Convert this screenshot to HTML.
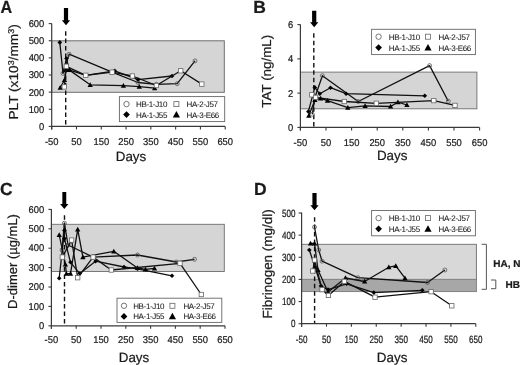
<!DOCTYPE html>
<html><head><meta charset="utf-8"><style>
html,body{margin:0;padding:0;background:#fff;width:520px;height:365px;overflow:hidden}
svg{display:block;will-change:transform}
text{text-rendering:geometricPrecision;font-family:"Liberation Sans",sans-serif;fill:#1a1a1a;stroke:#1a1a1a;stroke-width:0.22px}
</style></head><body>
<svg width="520" height="365" viewBox="0 0 520 365">
<rect width="520" height="365" fill="#fff"/>
<text transform="translate(0.4 12.7) scale(0.92 1)" font-size="17.5" text-anchor="start" font-weight="bold" >A</text>
<rect x="51.7" y="40.8" width="172.60000000000002" height="51.5" fill="#d5d5d5" stroke="#6e6e6e" stroke-width="1.0"/>
<line x1="51.7" y1="23.5" x2="51.7" y2="129.4" stroke="#3a3a3a" stroke-width="1.2" />
<line x1="48.7" y1="126.4" x2="51.7" y2="126.4" stroke="#3a3a3a" stroke-width="1.1" />
<text transform="translate(44.3 129.8) scale(0.95 1)" font-size="9.9" text-anchor="end" font-weight="normal" >0</text>
<line x1="48.7" y1="109.27" x2="51.7" y2="109.27" stroke="#3a3a3a" stroke-width="1.1" />
<text transform="translate(44.3 112.67) scale(0.95 1)" font-size="9.9" text-anchor="end" font-weight="normal" >100</text>
<line x1="48.7" y1="92.13" x2="51.7" y2="92.13" stroke="#3a3a3a" stroke-width="1.1" />
<text transform="translate(44.3 95.53) scale(0.95 1)" font-size="9.9" text-anchor="end" font-weight="normal" >200</text>
<line x1="48.7" y1="75.0" x2="51.7" y2="75.0" stroke="#3a3a3a" stroke-width="1.1" />
<text transform="translate(44.3 78.4) scale(0.95 1)" font-size="9.9" text-anchor="end" font-weight="normal" >300</text>
<line x1="48.7" y1="57.87" x2="51.7" y2="57.87" stroke="#3a3a3a" stroke-width="1.1" />
<text transform="translate(44.3 61.27) scale(0.95 1)" font-size="9.9" text-anchor="end" font-weight="normal" >400</text>
<line x1="48.7" y1="40.73" x2="51.7" y2="40.73" stroke="#3a3a3a" stroke-width="1.1" />
<text transform="translate(44.3 44.13) scale(0.95 1)" font-size="9.9" text-anchor="end" font-weight="normal" >500</text>
<line x1="48.7" y1="23.6" x2="51.7" y2="23.6" stroke="#3a3a3a" stroke-width="1.1" />
<text transform="translate(44.3 27.0) scale(0.95 1)" font-size="9.9" text-anchor="end" font-weight="normal" >600</text>
<line x1="51.7" y1="126.4" x2="225.2" y2="126.4" stroke="#3a3a3a" stroke-width="1.2" />
<line x1="51.7" y1="126.4" x2="51.7" y2="129.4" stroke="#3a3a3a" stroke-width="1.1" />
<text transform="translate(51.7 144.8) scale(0.95 1)" font-size="9.9" text-anchor="middle" font-weight="normal" >-50</text>
<line x1="76.49" y1="126.4" x2="76.49" y2="129.4" stroke="#3a3a3a" stroke-width="1.1" />
<text transform="translate(76.49 144.8) scale(0.95 1)" font-size="9.9" text-anchor="middle" font-weight="normal" >50</text>
<line x1="101.27" y1="126.4" x2="101.27" y2="129.4" stroke="#3a3a3a" stroke-width="1.1" />
<text transform="translate(101.27 144.8) scale(0.95 1)" font-size="9.9" text-anchor="middle" font-weight="normal" >150</text>
<line x1="126.06" y1="126.4" x2="126.06" y2="129.4" stroke="#3a3a3a" stroke-width="1.1" />
<text transform="translate(126.06 144.8) scale(0.95 1)" font-size="9.9" text-anchor="middle" font-weight="normal" >250</text>
<line x1="150.84" y1="126.4" x2="150.84" y2="129.4" stroke="#3a3a3a" stroke-width="1.1" />
<text transform="translate(150.84 144.8) scale(0.95 1)" font-size="9.9" text-anchor="middle" font-weight="normal" >350</text>
<line x1="175.63" y1="126.4" x2="175.63" y2="129.4" stroke="#3a3a3a" stroke-width="1.1" />
<text transform="translate(175.63 144.8) scale(0.95 1)" font-size="9.9" text-anchor="middle" font-weight="normal" >450</text>
<line x1="200.41" y1="126.4" x2="200.41" y2="129.4" stroke="#3a3a3a" stroke-width="1.1" />
<text transform="translate(200.41 144.8) scale(0.95 1)" font-size="9.9" text-anchor="middle" font-weight="normal" >550</text>
<line x1="225.2" y1="126.4" x2="225.2" y2="129.4" stroke="#3a3a3a" stroke-width="1.1" />
<text transform="translate(225.2 144.8) scale(0.95 1)" font-size="9.9" text-anchor="middle" font-weight="normal" >650</text>
<text transform="translate(18.2 71.9) rotate(-90) scale(1.052 1)" font-size="13" text-anchor="middle">PLT (x10<tspan font-size='8.5' dy='-4.5'>3</tspan><tspan dy='4.5'>/mm</tspan><tspan font-size='8.5' dy='-4.5'>3</tspan><tspan dy='4.5'>)</tspan></text>
<text x="131.0" y="160.6" font-size="13.4" text-anchor="middle" font-weight="normal" >Days</text>
<line x1="65.7" y1="31.2" x2="65.7" y2="126" stroke="#111" stroke-width="1.4" stroke-dasharray="4.5,2.9"/>
<path d="M63.9 7.9L68.1 7.9L68.1 20.2L70.15 20.2L66.0 25.2L61.85 20.2L63.9 20.2Z" fill="#000"/>
<path d="M63 73.4 L69.1 54.2 L112.1 72.2 L138 82.5 L156.4 84.3 L177.2 83.7 L195 60.9" fill="none" stroke="#111" stroke-width="1.3" stroke-linejoin="round"/>
<circle cx="63" cy="73.4" r="1.9800000000000002" fill="none" stroke="#555" stroke-width="0.8"/>
<circle cx="69.1" cy="54.2" r="1.9800000000000002" fill="none" stroke="#555" stroke-width="0.8"/>
<circle cx="112.1" cy="72.2" r="1.9800000000000002" fill="none" stroke="#555" stroke-width="0.8"/>
<circle cx="138" cy="82.5" r="1.9800000000000002" fill="none" stroke="#555" stroke-width="0.8"/>
<circle cx="156.4" cy="84.3" r="1.9800000000000002" fill="none" stroke="#555" stroke-width="0.8"/>
<circle cx="177.2" cy="83.7" r="1.9800000000000002" fill="none" stroke="#555" stroke-width="0.8"/>
<circle cx="195" cy="60.9" r="1.9800000000000002" fill="none" stroke="#555" stroke-width="0.8"/>
<path d="M59.8 42.4 L63 73.4 L66.5 58.5 L69.1 69.9 L85.8 75.3 L114.7 70.8 L138 79.6 L172 76" fill="none" stroke="#111" stroke-width="1.3" stroke-linejoin="round"/>
<path d="M59.8 40.089999999999996L62.11 42.4L59.8 44.71L57.489999999999995 42.4Z" fill="#000"/>
<path d="M66.5 56.19L68.81 58.5L66.5 60.81L64.19 58.5Z" fill="#000"/>
<path d="M69.1 67.59L71.41 69.9L69.1 72.21000000000001L66.78999999999999 69.9Z" fill="#000"/>
<path d="M114.7 68.49L117.01 70.8L114.7 73.11L112.39 70.8Z" fill="#000"/>
<path d="M138 77.28999999999999L140.31 79.6L138 81.91L135.69 79.6Z" fill="#000"/>
<path d="M172 73.69L174.31 76L172 78.31L169.69 76Z" fill="#000"/>
<path d="M60.2 87.7 L64.5 80 L66 70 L69.1 69.9 L90.2 84.8 L123.4 85.7 L139.3 86.6 L154.7 88.1" fill="none" stroke="#111" stroke-width="1.3" stroke-linejoin="round"/>
<path d="M60.2 85.06L62.84 89.812L57.56 89.812Z" fill="#000"/>
<path d="M64.5 77.36L67.14 82.112L61.86 82.112Z" fill="#000"/>
<path d="M66 67.36L68.64 72.112L63.36 72.112Z" fill="#000"/>
<path d="M69.1 67.26L71.74 72.012L66.46 72.012Z" fill="#000"/>
<path d="M90.2 82.16L92.84 86.91199999999999L87.56 86.91199999999999Z" fill="#000"/>
<path d="M123.4 83.06L126.04 87.812L120.76 87.812Z" fill="#000"/>
<path d="M139.3 83.96L141.94 88.71199999999999L136.66000000000003 88.71199999999999Z" fill="#000"/>
<path d="M154.7 85.46L157.33999999999997 90.21199999999999L152.06 90.21199999999999Z" fill="#000"/>
<path d="M64.3 86.9 L66.3 66.3 L85.8 75.3 L112.1 72.2 L132.4 76 L156.4 85.5 L180.7 70.8 L201.8 84.1" fill="none" stroke="#111" stroke-width="1.3" stroke-linejoin="round"/>
<rect x="62.099999999999994" y="84.7" width="4.4" height="4.4" fill="#fff" stroke="#666" stroke-width="0.8"/>
<rect x="64.1" y="64.1" width="4.4" height="4.4" fill="#fff" stroke="#666" stroke-width="0.8"/>
<rect x="83.6" y="73.1" width="4.4" height="4.4" fill="#fff" stroke="#666" stroke-width="0.8"/>
<rect x="109.89999999999999" y="70.0" width="4.4" height="4.4" fill="#fff" stroke="#666" stroke-width="0.8"/>
<rect x="130.20000000000002" y="73.8" width="4.4" height="4.4" fill="#fff" stroke="#666" stroke-width="0.8"/>
<rect x="154.20000000000002" y="83.3" width="4.4" height="4.4" fill="#fff" stroke="#666" stroke-width="0.8"/>
<rect x="178.5" y="68.6" width="4.4" height="4.4" fill="#fff" stroke="#666" stroke-width="0.8"/>
<rect x="199.60000000000002" y="81.89999999999999" width="4.4" height="4.4" fill="#fff" stroke="#666" stroke-width="0.8"/>
<rect x="119.4" y="96.6" width="105.3" height="25" fill="#fff" stroke="#666" stroke-width="0.9"/>
<circle cx="126.5" cy="104.1" r="2.7" fill="#fff" stroke="#555" stroke-width="0.8"/>
<text x="136.0" y="107.0" font-size="8" text-anchor="start" font-weight="normal" letter-spacing="-0.35" style="stroke-width:0.06px">HB-1-J10</text>
<rect x="173.9" y="101.6" width="5.0" height="5.0" fill="#fff" stroke="#666" stroke-width="0.8"/>
<text x="186.6" y="107.0" font-size="8" text-anchor="start" font-weight="normal" letter-spacing="-0.35" style="stroke-width:0.06px">HA-2-J57</text>
<path d="M126.5 111.24L129.86 114.6L126.5 117.96L123.14 114.6Z" fill="#000"/>
<text x="136.0" y="117.5" font-size="8" text-anchor="start" font-weight="normal" letter-spacing="-0.35" style="stroke-width:0.06px">HA-1-J55</text>
<path d="M176.4 111.0L180.0 117.47999999999999L172.8 117.47999999999999Z" fill="#000"/>
<text x="186.6" y="117.5" font-size="8" text-anchor="start" font-weight="normal" letter-spacing="-0.35" style="stroke-width:0.06px">HA-3-E66</text>
<text x="253.3" y="12.5" font-size="17.5" text-anchor="start" font-weight="bold" >B</text>
<rect x="300.4" y="72.1" width="176.5" height="36.7" fill="#d5d5d5" stroke="#6e6e6e" stroke-width="0.9"/>
<line x1="300.4" y1="24.5" x2="300.4" y2="130.4" stroke="#3a3a3a" stroke-width="1.2" />
<line x1="297.4" y1="127.4" x2="300.4" y2="127.4" stroke="#3a3a3a" stroke-width="1.1" />
<text transform="translate(293.2 130.8) scale(0.95 1)" font-size="9.9" text-anchor="end" font-weight="normal" >0</text>
<line x1="297.4" y1="93.13" x2="300.4" y2="93.13" stroke="#3a3a3a" stroke-width="1.1" />
<text transform="translate(293.2 96.53) scale(0.95 1)" font-size="9.9" text-anchor="end" font-weight="normal" >2</text>
<line x1="297.4" y1="58.87" x2="300.4" y2="58.87" stroke="#3a3a3a" stroke-width="1.1" />
<text transform="translate(293.2 62.27) scale(0.95 1)" font-size="9.9" text-anchor="end" font-weight="normal" >4</text>
<line x1="297.4" y1="24.6" x2="300.4" y2="24.6" stroke="#3a3a3a" stroke-width="1.1" />
<text transform="translate(293.2 28.0) scale(0.95 1)" font-size="9.9" text-anchor="end" font-weight="normal" >6</text>
<line x1="300.4" y1="127.4" x2="479.6" y2="127.4" stroke="#3a3a3a" stroke-width="1.2" />
<line x1="300.4" y1="127.4" x2="300.4" y2="130.4" stroke="#3a3a3a" stroke-width="1.1" />
<text transform="translate(300.4 146.3) scale(0.95 1)" font-size="9.9" text-anchor="middle" font-weight="normal" >-50</text>
<line x1="326.0" y1="127.4" x2="326.0" y2="130.4" stroke="#3a3a3a" stroke-width="1.1" />
<text transform="translate(326.0 146.3) scale(0.95 1)" font-size="9.9" text-anchor="middle" font-weight="normal" >50</text>
<line x1="351.6" y1="127.4" x2="351.6" y2="130.4" stroke="#3a3a3a" stroke-width="1.1" />
<text transform="translate(351.6 146.3) scale(0.95 1)" font-size="9.9" text-anchor="middle" font-weight="normal" >150</text>
<line x1="377.2" y1="127.4" x2="377.2" y2="130.4" stroke="#3a3a3a" stroke-width="1.1" />
<text transform="translate(377.2 146.3) scale(0.95 1)" font-size="9.9" text-anchor="middle" font-weight="normal" >250</text>
<line x1="402.8" y1="127.4" x2="402.8" y2="130.4" stroke="#3a3a3a" stroke-width="1.1" />
<text transform="translate(402.8 146.3) scale(0.95 1)" font-size="9.9" text-anchor="middle" font-weight="normal" >350</text>
<line x1="428.4" y1="127.4" x2="428.4" y2="130.4" stroke="#3a3a3a" stroke-width="1.1" />
<text transform="translate(428.4 146.3) scale(0.95 1)" font-size="9.9" text-anchor="middle" font-weight="normal" >450</text>
<line x1="454.0" y1="127.4" x2="454.0" y2="130.4" stroke="#3a3a3a" stroke-width="1.1" />
<text transform="translate(454.0 146.3) scale(0.95 1)" font-size="9.9" text-anchor="middle" font-weight="normal" >550</text>
<line x1="479.6" y1="127.4" x2="479.6" y2="130.4" stroke="#3a3a3a" stroke-width="1.1" />
<text transform="translate(479.6 146.3) scale(0.95 1)" font-size="9.9" text-anchor="middle" font-weight="normal" >650</text>
<text transform="translate(270.7 71.2) rotate(-90) scale(1.03 1)" font-size="13" text-anchor="middle">TAT (ng/mL)</text>
<text x="392.2" y="160.3" font-size="13.4" text-anchor="middle" font-weight="normal" >Days</text>
<line x1="313.8" y1="33.3" x2="313.8" y2="127" stroke="#111" stroke-width="1.4" stroke-dasharray="4.5,2.9"/>
<path d="M312.09999999999997 10.7L316.3 10.7L316.3 22.2L318.34999999999997 22.2L314.2 27.2L310.05 22.2L312.09999999999997 22.2Z" fill="#000"/>
<path d="M312.3 114.3 L314.9 97.2 L322.4 75.7 L358.2 101.5 L429.6 65.6 L448.3 101.2" fill="none" stroke="#111" stroke-width="1.3" stroke-linejoin="round"/>
<circle cx="312.3" cy="114.3" r="1.9800000000000002" fill="none" stroke="#555" stroke-width="0.8"/>
<circle cx="314.9" cy="97.2" r="1.9800000000000002" fill="none" stroke="#555" stroke-width="0.8"/>
<circle cx="322.4" cy="75.7" r="1.9800000000000002" fill="none" stroke="#555" stroke-width="0.8"/>
<circle cx="358.2" cy="101.5" r="1.9800000000000002" fill="none" stroke="#555" stroke-width="0.8"/>
<circle cx="429.6" cy="65.6" r="1.9800000000000002" fill="none" stroke="#555" stroke-width="0.8"/>
<circle cx="448.3" cy="101.2" r="1.9800000000000002" fill="none" stroke="#555" stroke-width="0.8"/>
<path d="M308.4 111.6 L314.8 87.4 L319.8 93.8 L330.5 87.7 L346.1 93.7 L424.8 95.8" fill="none" stroke="#111" stroke-width="1.3" stroke-linejoin="round"/>
<path d="M308.4 109.28999999999999L310.71 111.6L308.4 113.91L306.09 111.6Z" fill="#000"/>
<path d="M314.8 85.09L317.11 87.4L314.8 89.71000000000001L312.49 87.4Z" fill="#000"/>
<path d="M319.8 91.49L322.11 93.8L319.8 96.11L317.49 93.8Z" fill="#000"/>
<path d="M330.5 85.39L332.81 87.7L330.5 90.01L328.19 87.7Z" fill="#000"/>
<path d="M346.1 91.39L348.41 93.7L346.1 96.01L343.79 93.7Z" fill="#000"/>
<path d="M424.8 93.49L427.11 95.8L424.8 98.11L422.49 95.8Z" fill="#000"/>
<path d="M308.8 115.7 L314.9 100 L320.6 98.4 L327.5 100.7 L347.8 107.6 L365.1 105.9 L390.6 106.5 L397.9 102.1 L406.9 105" fill="none" stroke="#111" stroke-width="1.3" stroke-linejoin="round"/>
<path d="M308.8 113.06L311.44 117.812L306.16 117.812Z" fill="#000"/>
<path d="M314.9 97.36L317.53999999999996 102.112L312.26 102.112Z" fill="#000"/>
<path d="M320.6 95.76L323.24 100.512L317.96000000000004 100.512Z" fill="#000"/>
<path d="M327.5 98.06L330.14 102.812L324.86 102.812Z" fill="#000"/>
<path d="M347.8 104.96L350.44 109.71199999999999L345.16 109.71199999999999Z" fill="#000"/>
<path d="M365.1 103.26L367.74 108.012L362.46000000000004 108.012Z" fill="#000"/>
<path d="M390.6 103.86L393.24 108.612L387.96000000000004 108.612Z" fill="#000"/>
<path d="M397.9 99.46L400.53999999999996 104.21199999999999L395.26 104.21199999999999Z" fill="#000"/>
<path d="M406.9 102.36L409.53999999999996 107.112L404.26 107.112Z" fill="#000"/>
<path d="M311.8 94.8 L315.6 97.4 L344.3 101.5 L376.3 103.3 L433.8 100.6 L455 105.4" fill="none" stroke="#111" stroke-width="1.3" stroke-linejoin="round"/>
<rect x="309.6" y="92.6" width="4.4" height="4.4" fill="#fff" stroke="#666" stroke-width="0.8"/>
<rect x="313.40000000000003" y="95.2" width="4.4" height="4.4" fill="#fff" stroke="#666" stroke-width="0.8"/>
<rect x="342.1" y="99.3" width="4.4" height="4.4" fill="#fff" stroke="#666" stroke-width="0.8"/>
<rect x="374.1" y="101.1" width="4.4" height="4.4" fill="#fff" stroke="#666" stroke-width="0.8"/>
<rect x="431.6" y="98.39999999999999" width="4.4" height="4.4" fill="#fff" stroke="#666" stroke-width="0.8"/>
<rect x="452.8" y="103.2" width="4.4" height="4.4" fill="#fff" stroke="#666" stroke-width="0.8"/>
<rect x="371.6" y="29.3" width="103.8" height="25.3" fill="#fff" stroke="#666" stroke-width="0.9"/>
<circle cx="378.6" cy="36.7" r="2.7" fill="#fff" stroke="#555" stroke-width="0.8"/>
<text x="388.8" y="39.6" font-size="8" text-anchor="start" font-weight="normal" letter-spacing="-0.35" style="stroke-width:0.06px">HB-1-J10</text>
<rect x="425.5" y="34.2" width="5.0" height="5.0" fill="#fff" stroke="#666" stroke-width="0.8"/>
<text x="438.6" y="39.6" font-size="8" text-anchor="start" font-weight="normal" letter-spacing="-0.35" style="stroke-width:0.06px">HA-2-J57</text>
<path d="M378.6 44.24L381.96000000000004 47.6L378.6 50.96L375.24 47.6Z" fill="#000"/>
<text x="388.8" y="50.5" font-size="8" text-anchor="start" font-weight="normal" letter-spacing="-0.35" style="stroke-width:0.06px">HA-1-J55</text>
<path d="M428.0 44.0L431.6 50.480000000000004L424.4 50.480000000000004Z" fill="#000"/>
<text x="438.6" y="50.5" font-size="8" text-anchor="start" font-weight="normal" letter-spacing="-0.35" style="stroke-width:0.06px">HA-3-E66</text>
<text x="0.1" y="194.6" font-size="17.5" text-anchor="start" font-weight="bold" >C</text>
<rect x="51.4" y="224.3" width="172.9" height="47.19999999999999" fill="#d5d5d5" stroke="#6e6e6e" stroke-width="0.9"/>
<line x1="51.4" y1="209" x2="51.4" y2="328.8" stroke="#3a3a3a" stroke-width="1.2" />
<line x1="48.4" y1="325.8" x2="51.4" y2="325.8" stroke="#3a3a3a" stroke-width="1.1" />
<text transform="translate(44.2 329.0) scale(0.95 1)" font-size="9.9" text-anchor="end" font-weight="normal" >0</text>
<line x1="48.4" y1="306.4" x2="51.4" y2="306.4" stroke="#3a3a3a" stroke-width="1.1" />
<text transform="translate(44.2 309.6) scale(0.95 1)" font-size="9.9" text-anchor="end" font-weight="normal" >100</text>
<line x1="48.4" y1="287.0" x2="51.4" y2="287.0" stroke="#3a3a3a" stroke-width="1.1" />
<text transform="translate(44.2 290.2) scale(0.95 1)" font-size="9.9" text-anchor="end" font-weight="normal" >200</text>
<line x1="48.4" y1="267.6" x2="51.4" y2="267.6" stroke="#3a3a3a" stroke-width="1.1" />
<text transform="translate(44.2 270.8) scale(0.95 1)" font-size="9.9" text-anchor="end" font-weight="normal" >300</text>
<line x1="48.4" y1="248.2" x2="51.4" y2="248.2" stroke="#3a3a3a" stroke-width="1.1" />
<text transform="translate(44.2 251.4) scale(0.95 1)" font-size="9.9" text-anchor="end" font-weight="normal" >400</text>
<line x1="48.4" y1="228.8" x2="51.4" y2="228.8" stroke="#3a3a3a" stroke-width="1.1" />
<text transform="translate(44.2 232.0) scale(0.95 1)" font-size="9.9" text-anchor="end" font-weight="normal" >500</text>
<line x1="48.4" y1="209.4" x2="51.4" y2="209.4" stroke="#3a3a3a" stroke-width="1.1" />
<text transform="translate(44.2 212.6) scale(0.95 1)" font-size="9.9" text-anchor="end" font-weight="normal" >600</text>
<line x1="51.4" y1="325.8" x2="225.0" y2="325.8" stroke="#3a3a3a" stroke-width="1.2" />
<line x1="51.4" y1="325.8" x2="51.4" y2="328.8" stroke="#3a3a3a" stroke-width="1.1" />
<text transform="translate(51.4 342.6) scale(0.95 1)" font-size="9.9" text-anchor="middle" font-weight="normal" >-50</text>
<line x1="76.2" y1="325.8" x2="76.2" y2="328.8" stroke="#3a3a3a" stroke-width="1.1" />
<text transform="translate(76.2 342.6) scale(0.95 1)" font-size="9.9" text-anchor="middle" font-weight="normal" >50</text>
<line x1="101.0" y1="325.8" x2="101.0" y2="328.8" stroke="#3a3a3a" stroke-width="1.1" />
<text transform="translate(101.0 342.6) scale(0.95 1)" font-size="9.9" text-anchor="middle" font-weight="normal" >150</text>
<line x1="125.8" y1="325.8" x2="125.8" y2="328.8" stroke="#3a3a3a" stroke-width="1.1" />
<text transform="translate(125.8 342.6) scale(0.95 1)" font-size="9.9" text-anchor="middle" font-weight="normal" >250</text>
<line x1="150.6" y1="325.8" x2="150.6" y2="328.8" stroke="#3a3a3a" stroke-width="1.1" />
<text transform="translate(150.6 342.6) scale(0.95 1)" font-size="9.9" text-anchor="middle" font-weight="normal" >350</text>
<line x1="175.4" y1="325.8" x2="175.4" y2="328.8" stroke="#3a3a3a" stroke-width="1.1" />
<text transform="translate(175.4 342.6) scale(0.95 1)" font-size="9.9" text-anchor="middle" font-weight="normal" >450</text>
<line x1="200.2" y1="325.8" x2="200.2" y2="328.8" stroke="#3a3a3a" stroke-width="1.1" />
<text transform="translate(200.2 342.6) scale(0.95 1)" font-size="9.9" text-anchor="middle" font-weight="normal" >550</text>
<line x1="225.0" y1="325.8" x2="225.0" y2="328.8" stroke="#3a3a3a" stroke-width="1.1" />
<text transform="translate(225.0 342.6) scale(0.95 1)" font-size="9.9" text-anchor="middle" font-weight="normal" >650</text>
<text transform="translate(16.8 261.5) rotate(-90) scale(1.0 1)" font-size="13" text-anchor="middle">D-dimer (µg/mL)</text>
<text x="134.0" y="361.7" font-size="13.4" text-anchor="middle" font-weight="normal" >Days</text>
<line x1="64.5" y1="215.3" x2="64.5" y2="325" stroke="#111" stroke-width="1.4" stroke-dasharray="4.5,2.9"/>
<path d="M62.349999999999994 191.9L66.25 191.9L66.25 203.9L68.45 203.9L64.3 208.9L60.15 203.9L62.349999999999994 203.9Z" fill="#000"/>
<path d="M62 250 L64.4 223.2 L68 245 L93.1 257.1 L137.5 255 L176.3 262 L194.5 259.3" fill="none" stroke="#111" stroke-width="1.3" stroke-linejoin="round"/>
<circle cx="62" cy="250" r="1.9800000000000002" fill="none" stroke="#555" stroke-width="0.8"/>
<circle cx="64.4" cy="223.2" r="1.9800000000000002" fill="none" stroke="#555" stroke-width="0.8"/>
<circle cx="68" cy="245" r="1.9800000000000002" fill="none" stroke="#555" stroke-width="0.8"/>
<circle cx="93.1" cy="257.1" r="1.9800000000000002" fill="none" stroke="#555" stroke-width="0.8"/>
<circle cx="137.5" cy="255" r="1.9800000000000002" fill="none" stroke="#555" stroke-width="0.8"/>
<circle cx="176.3" cy="262" r="1.9800000000000002" fill="none" stroke="#555" stroke-width="0.8"/>
<circle cx="194.5" cy="259.3" r="1.9800000000000002" fill="none" stroke="#555" stroke-width="0.8"/>
<path d="M59.2 278.3 L64.4 230.4 L64.4 238.6 L70.5 262.3 L79.8 273.6 L95.6 261.2 L124 267 L137.5 268.8 L172 275.8" fill="none" stroke="#111" stroke-width="1.3" stroke-linejoin="round"/>
<path d="M59.2 275.99L61.510000000000005 278.3L59.2 280.61L56.89 278.3Z" fill="#000"/>
<path d="M64.4 228.09L66.71000000000001 230.4L64.4 232.71L62.09 230.4Z" fill="#000"/>
<path d="M64.4 236.29L66.71000000000001 238.6L64.4 240.91L62.09 238.6Z" fill="#000"/>
<path d="M70.5 259.99L72.81 262.3L70.5 264.61L68.19 262.3Z" fill="#000"/>
<path d="M79.8 271.29L82.11 273.6L79.8 275.91L77.49 273.6Z" fill="#000"/>
<path d="M95.6 258.89L97.91 261.2L95.6 263.51L93.28999999999999 261.2Z" fill="#000"/>
<path d="M124 264.69L126.31 267L124 269.31L121.69 267Z" fill="#000"/>
<path d="M137.5 266.49L139.81 268.8L137.5 271.11L135.19 268.8Z" fill="#000"/>
<path d="M172 273.49L174.31 275.8L172 278.11L169.69 275.8Z" fill="#000"/>
<path d="M59.2 234.9 L65.4 264.3 L66.4 273.6 L70.5 273.6 L77.7 229.4 L82.9 257.1 L113.8 251.3 L137.5 268 L145.5 269.3 L154.5 268.3" fill="none" stroke="#111" stroke-width="1.3" stroke-linejoin="round"/>
<path d="M59.2 232.26000000000002L61.84 237.012L56.56 237.012Z" fill="#000"/>
<path d="M65.4 261.66L68.04 266.41200000000003L62.760000000000005 266.41200000000003Z" fill="#000"/>
<path d="M66.4 270.96000000000004L69.04 275.71200000000005L63.760000000000005 275.71200000000005Z" fill="#000"/>
<path d="M70.5 270.96000000000004L73.14 275.71200000000005L67.86 275.71200000000005Z" fill="#000"/>
<path d="M77.7 226.76000000000002L80.34 231.512L75.06 231.512Z" fill="#000"/>
<path d="M82.9 254.46000000000004L85.54 259.21200000000005L80.26 259.21200000000005Z" fill="#000"/>
<path d="M113.8 248.66000000000003L116.44 253.412L111.16 253.412Z" fill="#000"/>
<path d="M137.5 265.36L140.14 270.112L134.86 270.112Z" fill="#000"/>
<path d="M145.5 266.66L148.14 271.41200000000003L142.86 271.41200000000003Z" fill="#000"/>
<path d="M154.5 265.66L157.14 270.41200000000003L151.86 270.41200000000003Z" fill="#000"/>
<path d="M62.3 257.1 L71.6 240.1 L77.7 277.7 L93.1 257.1 L111.3 270 L180 263.3 L201.3 294.5" fill="none" stroke="#111" stroke-width="1.3" stroke-linejoin="round"/>
<rect x="60.099999999999994" y="254.90000000000003" width="4.4" height="4.4" fill="#fff" stroke="#666" stroke-width="0.8"/>
<rect x="69.39999999999999" y="237.9" width="4.4" height="4.4" fill="#fff" stroke="#666" stroke-width="0.8"/>
<rect x="75.5" y="275.5" width="4.4" height="4.4" fill="#fff" stroke="#666" stroke-width="0.8"/>
<rect x="90.89999999999999" y="254.90000000000003" width="4.4" height="4.4" fill="#fff" stroke="#666" stroke-width="0.8"/>
<rect x="109.1" y="267.8" width="4.4" height="4.4" fill="#fff" stroke="#666" stroke-width="0.8"/>
<rect x="177.8" y="261.1" width="4.4" height="4.4" fill="#fff" stroke="#666" stroke-width="0.8"/>
<rect x="199.10000000000002" y="292.3" width="4.4" height="4.4" fill="#fff" stroke="#666" stroke-width="0.8"/>
<rect x="117.0" y="298.2" width="104.8" height="24.2" fill="#fff" stroke="#666" stroke-width="0.9"/>
<circle cx="124.0" cy="305.8" r="2.7" fill="#fff" stroke="#555" stroke-width="0.8"/>
<text x="133.2" y="308.7" font-size="8" text-anchor="start" font-weight="normal" letter-spacing="-0.35" style="stroke-width:0.06px">HB-1-J10</text>
<rect x="169.9" y="303.3" width="5.0" height="5.0" fill="#fff" stroke="#666" stroke-width="0.8"/>
<text x="183.4" y="308.7" font-size="8" text-anchor="start" font-weight="normal" letter-spacing="-0.35" style="stroke-width:0.06px">HA-2-J57</text>
<path d="M124.0 313.03999999999996L127.36 316.4L124.0 319.76L120.64 316.4Z" fill="#000"/>
<text x="133.2" y="319.29999999999995" font-size="8" text-anchor="start" font-weight="normal" letter-spacing="-0.35" style="stroke-width:0.06px">HA-1-J55</text>
<path d="M172.4 312.79999999999995L176.0 319.28L168.8 319.28Z" fill="#000"/>
<text x="183.4" y="319.29999999999995" font-size="8" text-anchor="start" font-weight="normal" letter-spacing="-0.35" style="stroke-width:0.06px">HA-3-E66</text>
<text x="253.9" y="194.8" font-size="17.5" text-anchor="start" font-weight="bold" >D</text>
<rect x="301.6" y="244.3" width="174.79999999999995" height="34.89999999999998" fill="#d8d8d8" stroke="#6e6e6e" stroke-width="0.9"/>
<rect x="301.6" y="279.2" width="174.79999999999995" height="12.400000000000034" fill="#a7a7a7" stroke="#7a7a7a" stroke-width="0.9"/>
<line x1="302.1" y1="278.2" x2="476.0" y2="278.2" stroke="#e6e6e6" stroke-width="0.8" />
<line x1="301.6" y1="212.5" x2="301.6" y2="326.7" stroke="#3a3a3a" stroke-width="1.2" />
<line x1="298.6" y1="323.7" x2="301.6" y2="323.7" stroke="#3a3a3a" stroke-width="1.1" />
<text transform="translate(295.6 327.4) scale(0.77 1)" font-size="10.5" text-anchor="end" font-weight="normal" >0</text>
<line x1="298.6" y1="301.56" x2="301.6" y2="301.56" stroke="#3a3a3a" stroke-width="1.1" />
<text transform="translate(295.6 305.26) scale(0.77 1)" font-size="10.5" text-anchor="end" font-weight="normal" >100</text>
<line x1="298.6" y1="279.42" x2="301.6" y2="279.42" stroke="#3a3a3a" stroke-width="1.1" />
<text transform="translate(295.6 283.12) scale(0.77 1)" font-size="10.5" text-anchor="end" font-weight="normal" >200</text>
<line x1="298.6" y1="257.28" x2="301.6" y2="257.28" stroke="#3a3a3a" stroke-width="1.1" />
<text transform="translate(295.6 260.98) scale(0.77 1)" font-size="10.5" text-anchor="end" font-weight="normal" >300</text>
<line x1="298.6" y1="235.14" x2="301.6" y2="235.14" stroke="#3a3a3a" stroke-width="1.1" />
<text transform="translate(295.6 238.84) scale(0.77 1)" font-size="10.5" text-anchor="end" font-weight="normal" >400</text>
<line x1="298.6" y1="213.0" x2="301.6" y2="213.0" stroke="#3a3a3a" stroke-width="1.1" />
<text transform="translate(295.6 216.7) scale(0.77 1)" font-size="10.5" text-anchor="end" font-weight="normal" >500</text>
<line x1="301.6" y1="323.7" x2="475.8" y2="323.7" stroke="#3a3a3a" stroke-width="1.2" />
<line x1="301.6" y1="323.7" x2="301.6" y2="326.7" stroke="#3a3a3a" stroke-width="1.1" />
<text transform="translate(301.6 342.6) scale(0.77 1)" font-size="10.5" text-anchor="middle" font-weight="normal" >-50</text>
<line x1="326.49" y1="323.7" x2="326.49" y2="326.7" stroke="#3a3a3a" stroke-width="1.1" />
<text transform="translate(326.49 342.6) scale(0.77 1)" font-size="10.5" text-anchor="middle" font-weight="normal" >50</text>
<line x1="351.37" y1="323.7" x2="351.37" y2="326.7" stroke="#3a3a3a" stroke-width="1.1" />
<text transform="translate(351.37 342.6) scale(0.77 1)" font-size="10.5" text-anchor="middle" font-weight="normal" >150</text>
<line x1="376.26" y1="323.7" x2="376.26" y2="326.7" stroke="#3a3a3a" stroke-width="1.1" />
<text transform="translate(376.26 342.6) scale(0.77 1)" font-size="10.5" text-anchor="middle" font-weight="normal" >250</text>
<line x1="401.14" y1="323.7" x2="401.14" y2="326.7" stroke="#3a3a3a" stroke-width="1.1" />
<text transform="translate(401.14 342.6) scale(0.77 1)" font-size="10.5" text-anchor="middle" font-weight="normal" >350</text>
<line x1="426.03" y1="323.7" x2="426.03" y2="326.7" stroke="#3a3a3a" stroke-width="1.1" />
<text transform="translate(426.03 342.6) scale(0.77 1)" font-size="10.5" text-anchor="middle" font-weight="normal" >450</text>
<line x1="450.91" y1="323.7" x2="450.91" y2="326.7" stroke="#3a3a3a" stroke-width="1.1" />
<text transform="translate(450.91 342.6) scale(0.77 1)" font-size="10.5" text-anchor="middle" font-weight="normal" >550</text>
<line x1="475.8" y1="323.7" x2="475.8" y2="326.7" stroke="#3a3a3a" stroke-width="1.1" />
<text transform="translate(475.8 342.6) scale(0.77 1)" font-size="10.5" text-anchor="middle" font-weight="normal" >650</text>
<text transform="translate(271.8 263.9) rotate(-90) scale(1.02 1)" font-size="13.2" text-anchor="middle">Fibrinogen (mg/dl)</text>
<text x="392.1" y="361.7" font-size="13.4" text-anchor="middle" font-weight="normal" >Days</text>
<line x1="314.6" y1="217.2" x2="314.6" y2="323" stroke="#111" stroke-width="1.4" stroke-dasharray="4.5,2.9"/>
<path d="M312.4 193.1L316.6 193.1L316.6 205.2L318.65 205.2L314.5 210.2L310.35 205.2L312.4 205.2Z" fill="#000"/>
<path d="M314.5 227.1 L318.7 250 L322.1 261.2 L357.8 277.7 L427.5 282.5 L444.9 270" fill="none" stroke="#111" stroke-width="1.3" stroke-linejoin="round"/>
<circle cx="314.5" cy="227.1" r="1.9800000000000002" fill="none" stroke="#555" stroke-width="0.8"/>
<circle cx="318.7" cy="250" r="1.9800000000000002" fill="none" stroke="#555" stroke-width="0.8"/>
<circle cx="322.1" cy="261.2" r="1.9800000000000002" fill="none" stroke="#555" stroke-width="0.8"/>
<circle cx="357.8" cy="277.7" r="1.9800000000000002" fill="none" stroke="#555" stroke-width="0.8"/>
<circle cx="427.5" cy="282.5" r="1.9800000000000002" fill="none" stroke="#555" stroke-width="0.8"/>
<circle cx="444.9" cy="270" r="1.9800000000000002" fill="none" stroke="#555" stroke-width="0.8"/>
<path d="M309.3 250 L315.2 267.5 L321 286.1 L328 289.6 L346.6 283.8 L373.8 292.6 L422.3 290.3" fill="none" stroke="#111" stroke-width="1.3" stroke-linejoin="round"/>
<path d="M309.3 247.69L311.61 250L309.3 252.31L306.99 250Z" fill="#000"/>
<path d="M315.2 265.19L317.51 267.5L315.2 269.81L312.89 267.5Z" fill="#000"/>
<path d="M321 283.79L323.31 286.1L321 288.41L318.69 286.1Z" fill="#000"/>
<path d="M328 287.29L330.31 289.6L328 291.91L325.69 289.6Z" fill="#000"/>
<path d="M346.6 281.49L348.91 283.8L346.6 286.11L344.29 283.8Z" fill="#000"/>
<path d="M373.8 290.29L376.11 292.6L373.8 294.91L371.49 292.6Z" fill="#000"/>
<path d="M422.3 287.99L424.61 290.3L422.3 292.61L419.99 290.3Z" fill="#000"/>
<path d="M310.5 243.4 L314.5 243.4 L318 270 L328 292 L345.5 278 L364.6 281.5 L388.8 267.2 L395.8 265.8 L405 278.1" fill="none" stroke="#111" stroke-width="1.3" stroke-linejoin="round"/>
<path d="M310.5 240.76000000000002L313.14 245.512L307.86 245.512Z" fill="#000"/>
<path d="M314.5 240.76000000000002L317.14 245.512L311.86 245.512Z" fill="#000"/>
<path d="M318 267.36L320.64 272.112L315.36 272.112Z" fill="#000"/>
<path d="M328 289.36L330.64 294.112L325.36 294.112Z" fill="#000"/>
<path d="M345.5 275.36L348.14 280.112L342.86 280.112Z" fill="#000"/>
<path d="M364.6 278.86L367.24 283.612L361.96000000000004 283.612Z" fill="#000"/>
<path d="M388.8 264.56L391.44 269.312L386.16 269.312Z" fill="#000"/>
<path d="M395.8 263.16L398.44 267.91200000000003L393.16 267.91200000000003Z" fill="#000"/>
<path d="M405 275.46000000000004L407.64 280.21200000000005L402.36 280.21200000000005Z" fill="#000"/>
<path d="M312.8 271 L314.5 260 L322.1 289.6 L328.4 295.4 L344.3 281.4 L375 297.2 L431.1 291.7 L451.8 305.8" fill="none" stroke="#111" stroke-width="1.3" stroke-linejoin="round"/>
<rect x="310.6" y="268.8" width="4.4" height="4.4" fill="#fff" stroke="#666" stroke-width="0.8"/>
<rect x="312.3" y="257.8" width="4.4" height="4.4" fill="#fff" stroke="#666" stroke-width="0.8"/>
<rect x="319.90000000000003" y="287.40000000000003" width="4.4" height="4.4" fill="#fff" stroke="#666" stroke-width="0.8"/>
<rect x="326.2" y="293.2" width="4.4" height="4.4" fill="#fff" stroke="#666" stroke-width="0.8"/>
<rect x="342.1" y="279.2" width="4.4" height="4.4" fill="#fff" stroke="#666" stroke-width="0.8"/>
<rect x="372.8" y="295.0" width="4.4" height="4.4" fill="#fff" stroke="#666" stroke-width="0.8"/>
<rect x="428.90000000000003" y="289.5" width="4.4" height="4.4" fill="#fff" stroke="#666" stroke-width="0.8"/>
<rect x="449.6" y="303.6" width="4.4" height="4.4" fill="#fff" stroke="#666" stroke-width="0.8"/>
<rect x="371.6" y="210.5" width="103.8" height="25.3" fill="#fff" stroke="#666" stroke-width="0.9"/>
<circle cx="378.6" cy="218.1" r="2.7" fill="#fff" stroke="#555" stroke-width="0.8"/>
<text x="388.8" y="221.0" font-size="8" text-anchor="start" font-weight="normal" letter-spacing="-0.35" style="stroke-width:0.06px">HB-1-J10</text>
<rect x="425.5" y="215.6" width="5.0" height="5.0" fill="#fff" stroke="#666" stroke-width="0.8"/>
<text x="438.6" y="221.0" font-size="8" text-anchor="start" font-weight="normal" letter-spacing="-0.35" style="stroke-width:0.06px">HA-2-J57</text>
<path d="M378.6 225.44L381.96000000000004 228.8L378.6 232.16000000000003L375.24 228.8Z" fill="#000"/>
<text x="388.8" y="231.70000000000002" font-size="8" text-anchor="start" font-weight="normal" letter-spacing="-0.35" style="stroke-width:0.06px">HA-1-J55</text>
<path d="M428.0 225.20000000000002L431.6 231.68L424.4 231.68Z" fill="#000"/>
<text x="438.6" y="231.70000000000002" font-size="8" text-anchor="start" font-weight="normal" letter-spacing="-0.35" style="stroke-width:0.06px">HA-3-E66</text>
<path d="M481.6 244.3H486.4V289.3H481.6" fill="none" stroke="#555" stroke-width="1"/>
<path d="M491 280H495.8V288.7H491" fill="none" stroke="#555" stroke-width="1"/>
<text x="493.3" y="267.3" font-size="10" text-anchor="start" font-weight="bold" >HA, NL</text>
<text x="505.6" y="288.1" font-size="10" text-anchor="start" font-weight="bold" >HB</text>
</svg>
</body></html>
